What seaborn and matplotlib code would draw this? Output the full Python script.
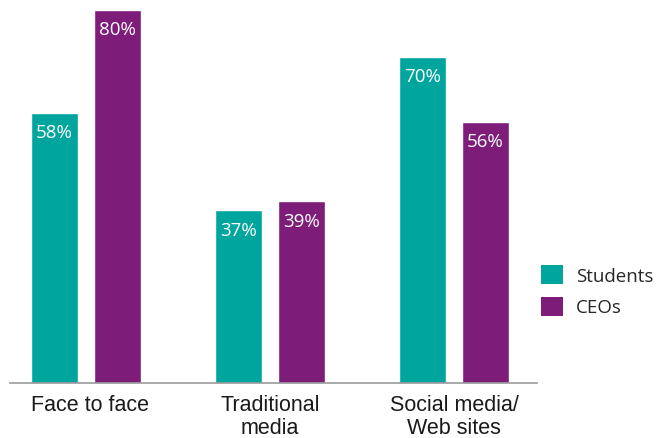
import matplotlib
matplotlib.use("Agg")
import matplotlib.pyplot as plt
import matplotlib.transforms as mtransforms
from matplotlib.patches import Patch
import pandas as pd
import seaborn as sns

categories = ["Face to face", "Traditional\nmedia", "Social media/\nWeb sites"]
series_names = ["Students", "CEOs"]
students = [58, 37, 70]
ceos = [80, 39, 56]
colors = ["#00A59E", "#7E1C7A"]

df = pd.DataFrame({
    "channel": categories * 2,
    "group": [series_names[0]] * 3 + [series_names[1]] * 3,
    "share": students + ceos,
})

sns.set_theme(style="white")
plt.rcParams["font.family"] = ["Liberation Sans", "DejaVu Sans"]
label_font = ["Open Sans", "DejaVu Sans"]

fig = plt.figure(figsize=(6.56, 4.39), dpi=100)
ax = fig.add_axes([10 / 656, 55 / 439, 527 / 656, 384 / 439])

sns.barplot(data=df, x="channel", y="share", hue="group",
            hue_order=series_names, palette=colors, width=0.684, gap=0.255,
            saturation=1, legend=False, ax=ax, errorbar=None)

# white percentage labels just inside the top of each bar
for container in ax.containers:
    for bar in container:
        h = bar.get_height()
        ax.annotate(f"{h:.0f}%", xy=(bar.get_x() + bar.get_width() / 2, h),
                    xytext=(0, -14), textcoords="offset points",
                    ha="center", va="center", color="white",
                    fontsize=13.5, family=label_font)

ax.set_xlim(-0.413, 2.451)
ax.set_ylim(0, 82.36)
ax.set_xlabel("")
ax.set_ylabel("")
ax.set_yticks([])
ax.tick_params(axis="x", length=0, pad=8, labelsize=15.5, colors="#1a1a1a")
for lbl in ax.get_xticklabels():
    lbl.set_linespacing(1.12)
# nudge the first category label slightly to the right
first = ax.get_xticklabels()[0]
first.set_transform(first.get_transform() +
                    mtransforms.ScaledTranslation(4 / 100, 0, fig.dpi_scale_trans))
for side in ["top", "left", "right"]:
    ax.spines[side].set_visible(False)
ax.spines["bottom"].set_color("#999999")
ax.spines["bottom"].set_linewidth(1.2)

handles = [Patch(facecolor=c, edgecolor="none", label=n)
           for c, n in zip(colors, series_names)]
fig.legend(handles=handles, loc="upper left",
           bbox_to_anchor=(541 / 656, 1 - 266 / 439), frameon=False,
           handlelength=1.17, handleheight=1.2, handletextpad=0.7,
           labelspacing=0.62, borderpad=0, borderaxespad=0,
           prop={"family": label_font, "size": 13.5})

fig.savefig("out.png", dpi=100)
